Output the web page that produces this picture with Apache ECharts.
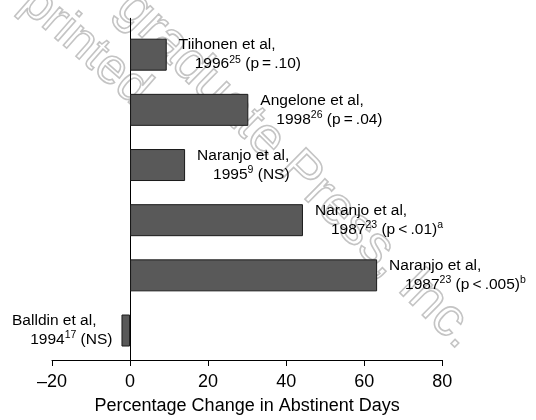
<!DOCTYPE html>
<html>
<head>
<meta charset="utf-8">
<script src="https://cdn.jsdelivr.net/npm/echarts@6/dist/echarts.min.js"></script>
<style>html,body{margin:0;padding:0;background:#fff}#c{width:536px;height:420px}</style>
</head>
<body>
<div id="c"></div>
<script>
const studies = ['Tiihonen et al,', 'Angelone et al,', 'Naranjo et al,', 'Naranjo et al,', 'Naranjo et al,', 'Balldin et al,'];
const years = ['1996', '1998', '1995', '1987', '1987', '1994'];
const refs = ['25', '26', '9', '23', '23', '17'];
const stats = [' (p\u2009=\u2009.10)', ' (p\u2009=\u2009.04)', ' (NS)', ' (p\u2009<\u2009.01)', ' (p\u2009<\u2009.005)', ' (NS)'];
const notes = ['', '', '', 'a', 'b', ''];
const values = [9.4, 30.3, 14.1, 44.3, 63.3, -2.2];
const xTicks = [-20, 0, 20, 40, 60, 80];
const axisName = 'Percentage Change in Abstinent Days';

const FONT = 'Liberation Sans';
const categories = studies.map((s, i) => s + ' ' + years[i] + refs[i]);

const rich = {
  n: { fontSize: 15.5, fontFamily: FONT, color: '#000', lineHeight: 19 },
  s: { fontSize: 10.5, fontFamily: FONT, color: '#000', lineHeight: 19, padding: [0, 0, 9, 0] },
  pad: { width: 16, lineHeight: 19 }
};

const seriesData = values.map((v, i) => {
  const line2 = `{n|${years[i]}}{s|${refs[i]}}{n|${stats[i]}}` + (notes[i] ? `{s|${notes[i]}}` : '');
  const left = v < 0;
  return {
    value: v,
    label: {
      show: true,
      position: left ? 'left' : 'right',
      distance: left ? 9 : 12,
      formatter: left ? `{n|${studies[i]}}{pad|}\n${line2}` : `{n|${studies[i]}}\n{pad|}${line2}`,
      rich: rich
    }
  };
});

const chart = echarts.init(document.getElementById('c'), null, { renderer: 'canvas' });
chart.setOption({
  animation: false,
  backgroundColor: '#fff',
  graphic: [
    { type: 'text', z: -10, x: 125, y: 0, rotation: -0.78,
      style: { text: 'graduate Press, Inc.', font: '54px "Liberation Sans"', fill: 'rgba(0,0,0,0)', stroke: '#c4c4c4', lineWidth: 1.6, verticalAlign: 'middle' } },
    { type: 'text', z: -10, x: 28, y: -4, rotation: -0.72,
      style: { text: 'printed', font: '50px "Liberation Sans"', fill: 'rgba(0,0,0,0)', stroke: '#c4c4c4', lineWidth: 1.6, verticalAlign: 'middle' } }
  ],
  grid: [
    { left: 52, right: 93.7, top: 27.1, bottom: 61.9 },
    { left: 52, right: 93.7, top: 18.3, bottom: 53.3 }
  ],
  xAxis: [
    { gridIndex: 0, type: 'value', min: xTicks[0], max: xTicks[xTicks.length - 1], show: false },
    {
      gridIndex: 1, type: 'value', min: xTicks[0], max: xTicks[xTicks.length - 1], interval: xTicks[1] - xTicks[0],
      axisLine: { onZero: false, lineStyle: { color: '#000', width: 1 } },
      axisTick: { show: true, length: 6, lineStyle: { color: '#000', width: 1 } },
      axisLabel: { margin: 13, fontSize: 18, fontFamily: FONT, color: '#000',
        formatter: v => String(v).replace('-', '\u2013') },
      splitLine: { show: false },
      name: axisName, nameLocation: 'middle', nameGap: 37,
      nameTextStyle: { fontSize: 18, fontFamily: FONT, color: '#000' }
    }
  ],
  yAxis: [
    { gridIndex: 0, type: 'category', data: categories, inverse: true, show: false },
    { gridIndex: 1, type: 'value', min: 0, max: 1,
      axisLine: { show: true, onZero: true, lineStyle: { color: '#000', width: 1 } },
      axisTick: { show: false }, axisLabel: { show: false }, splitLine: { show: false } }
  ],
  series: [{
    type: 'bar',
    xAxisIndex: 0, yAxisIndex: 0,
    barWidth: 32,
    data: seriesData,
    itemStyle: { color: '#595959', borderColor: '#1a1a1a', borderWidth: 1 },
    z: 3
  }]
});
</script>
</body>
</html>
